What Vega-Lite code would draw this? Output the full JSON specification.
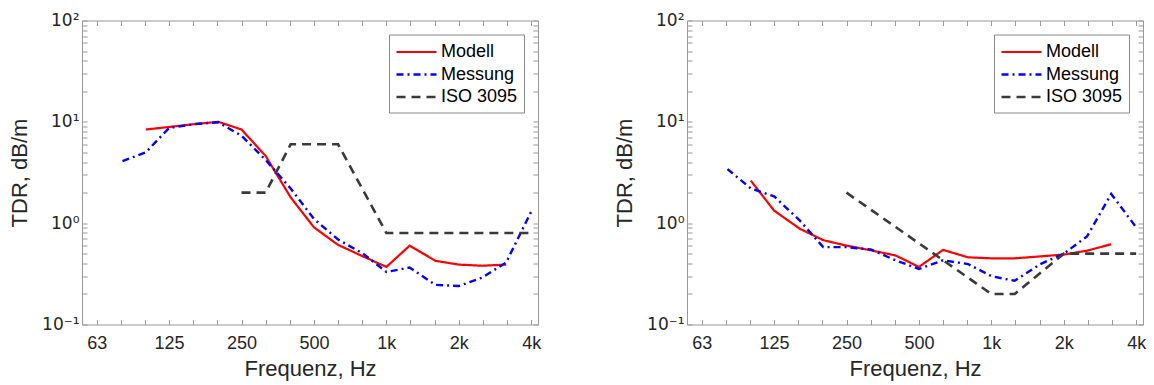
{
  "$schema": "https://vega.github.io/schema/vega-lite/v6.json",
  "background": "white",
  "padding": {"left": 8, "top": 10.5, "right": 5, "bottom": 3},
  "bounds": "flush",
  "spacing": 149,
  "datasets": {
    "left": [
      {"series": "Modell", "f": 100, "tdr": 8.4},
      {"series": "Modell", "f": 125, "tdr": 8.9},
      {"series": "Modell", "f": 160, "tdr": 9.5},
      {"series": "Modell", "f": 200, "tdr": 10.0},
      {"series": "Modell", "f": 250, "tdr": 8.4},
      {"series": "Modell", "f": 315, "tdr": 4.6},
      {"series": "Modell", "f": 400, "tdr": 1.8},
      {"series": "Modell", "f": 500, "tdr": 0.91},
      {"series": "Modell", "f": 630, "tdr": 0.61},
      {"series": "Modell", "f": 800, "tdr": 0.47},
      {"series": "Modell", "f": 1000, "tdr": 0.37},
      {"series": "Modell", "f": 1250, "tdr": 0.6},
      {"series": "Modell", "f": 1600, "tdr": 0.425},
      {"series": "Modell", "f": 2000, "tdr": 0.39},
      {"series": "Modell", "f": 2500, "tdr": 0.38},
      {"series": "Modell", "f": 3150, "tdr": 0.39},
      {"series": "Messung", "f": 80, "tdr": 4.1},
      {"series": "Messung", "f": 100, "tdr": 5.0},
      {"series": "Messung", "f": 125, "tdr": 8.7},
      {"series": "Messung", "f": 160, "tdr": 9.5},
      {"series": "Messung", "f": 200, "tdr": 9.9},
      {"series": "Messung", "f": 250, "tdr": 7.3},
      {"series": "Messung", "f": 315, "tdr": 4.2},
      {"series": "Messung", "f": 400, "tdr": 2.2},
      {"series": "Messung", "f": 500, "tdr": 1.1},
      {"series": "Messung", "f": 630, "tdr": 0.69},
      {"series": "Messung", "f": 800, "tdr": 0.5},
      {"series": "Messung", "f": 1000, "tdr": 0.33},
      {"series": "Messung", "f": 1250, "tdr": 0.365},
      {"series": "Messung", "f": 1600, "tdr": 0.246},
      {"series": "Messung", "f": 2000, "tdr": 0.24},
      {"series": "Messung", "f": 2500, "tdr": 0.29},
      {"series": "Messung", "f": 3150, "tdr": 0.41},
      {"series": "Messung", "f": 4000, "tdr": 1.3},
      {"series": "ISO 3095", "f": 250, "tdr": 2.0},
      {"series": "ISO 3095", "f": 315, "tdr": 2.0},
      {"series": "ISO 3095", "f": 400, "tdr": 6.0},
      {"series": "ISO 3095", "f": 500, "tdr": 6.0},
      {"series": "ISO 3095", "f": 630, "tdr": 6.0},
      {"series": "ISO 3095", "f": 1000, "tdr": 0.8},
      {"series": "ISO 3095", "f": 4000, "tdr": 0.8}
    ],
    "right": [
      {"series": "Modell", "f": 100, "tdr": 2.63},
      {"series": "Modell", "f": 125, "tdr": 1.33},
      {"series": "Modell", "f": 160, "tdr": 0.88},
      {"series": "Modell", "f": 200, "tdr": 0.68},
      {"series": "Modell", "f": 250, "tdr": 0.6},
      {"series": "Modell", "f": 315, "tdr": 0.54},
      {"series": "Modell", "f": 400, "tdr": 0.48},
      {"series": "Modell", "f": 500, "tdr": 0.37},
      {"series": "Modell", "f": 630, "tdr": 0.545},
      {"series": "Modell", "f": 800, "tdr": 0.46},
      {"series": "Modell", "f": 1000, "tdr": 0.45},
      {"series": "Modell", "f": 1250, "tdr": 0.45},
      {"series": "Modell", "f": 1600, "tdr": 0.47},
      {"series": "Modell", "f": 2000, "tdr": 0.49},
      {"series": "Modell", "f": 2500, "tdr": 0.535},
      {"series": "Modell", "f": 3150, "tdr": 0.62},
      {"series": "Messung", "f": 80, "tdr": 3.42},
      {"series": "Messung", "f": 100, "tdr": 2.2},
      {"series": "Messung", "f": 125, "tdr": 1.84},
      {"series": "Messung", "f": 160, "tdr": 1.06},
      {"series": "Messung", "f": 200, "tdr": 0.58},
      {"series": "Messung", "f": 250, "tdr": 0.58},
      {"series": "Messung", "f": 315, "tdr": 0.55},
      {"series": "Messung", "f": 400, "tdr": 0.43},
      {"series": "Messung", "f": 500, "tdr": 0.353},
      {"series": "Messung", "f": 630, "tdr": 0.43},
      {"series": "Messung", "f": 800, "tdr": 0.395},
      {"series": "Messung", "f": 1000, "tdr": 0.3},
      {"series": "Messung", "f": 1250, "tdr": 0.27},
      {"series": "Messung", "f": 1600, "tdr": 0.395},
      {"series": "Messung", "f": 2000, "tdr": 0.5},
      {"series": "Messung", "f": 2500, "tdr": 0.74},
      {"series": "Messung", "f": 3150, "tdr": 1.94},
      {"series": "Messung", "f": 4000, "tdr": 0.91},
      {"series": "ISO 3095", "f": 250, "tdr": 2.0},
      {"series": "ISO 3095", "f": 1000, "tdr": 0.2},
      {"series": "ISO 3095", "f": 1250, "tdr": 0.2},
      {"series": "ISO 3095", "f": 2000, "tdr": 0.5},
      {"series": "ISO 3095", "f": 4000, "tdr": 0.5}
    ]
  },
  "hconcat": [
    {
      "width": 456,
      "height": 304,
      "data": {"name": "left"},
      "layer": [
        {
          "mark": {"type": "line", "strokeCap": "butt"},
          "encoding": {
            "x": {"field": "f", "type": "quantitative", "title": "Frequenz, Hz",
              "scale": {"type": "log", "domain": [54.3, 4270], "nice": false},
              "axis": {"orient": "bottom", "labelPadding": 15, "titlePadding": 6, "values": [62.5, 78.75, 99.21, 125, 157.49, 198.43, 250, 314.98, 396.85, 500, 629.96, 793.7, 1000, 1259.92, 1587.4, 2000, 2519.84, 3174.8, 4000],
                "labelExpr": "datum.value == 62.5 ? '63' : datum.value == 125 ? '125' : datum.value == 250 ? '250' : datum.value == 500 ? '500' : datum.value == 1000 ? '1k' : datum.value == 2000 ? '2k' : datum.value == 4000 ? '4k' : ''"}},
            "y": {"field": "tdr", "type": "quantitative", "title": "TDR, dB/m",
              "scale": {"type": "log", "domain": [0.1, 100], "nice": false},
              "axis": {"orient": "left", "labelPadding": 8, "titlePadding": 10, "labelFont": "DejaVu Sans", "labelFontSize": 17, "values": [0.1, 0.2, 0.3, 0.4, 0.5, 0.6, 0.7, 0.8, 0.9, 1, 2, 3, 4, 5, 6, 7, 8, 9, 10, 20, 30, 40, 50, 60, 70, 80, 90, 100],
                "labelExpr": "datum.value == 100 ? '10²' : datum.value == 10 ? '10¹' : datum.value == 1 ? '10⁰' : datum.value == 0.1 ? '10⁻¹' : ''"}},
            "color": {"field": "series", "type": "nominal", "title": null,
              "scale": {"domain": ["Modell", "Messung", "ISO 3095"], "range": ["#ff0000", "#0000ff", "#3a3a3a"]}},
            "strokeDash": {"field": "series", "type": "nominal", "title": null,
              "scale": {"domain": ["Modell", "Messung", "ISO 3095"], "range": [[1, 0], [7, 4, 2, 4], [9, 6]]}},
            "strokeWidth": {"field": "series", "type": "nominal", "title": null,
              "scale": {"domain": ["Modell", "Messung", "ISO 3095"], "range": [2.2, 2.6, 1.2]}}
          }
        },
        {
          "mark": {"type": "point", "opacity": 0},
          "encoding": {
            "x": {"field": "f", "type": "quantitative", "axis": {"orient": "top", "title": null, "labels": false, "values": [62.5, 78.75, 99.21, 125, 157.49, 198.43, 250, 314.98, 396.85, 500, 629.96, 793.7, 1000, 1259.92, 1587.4, 2000, 2519.84, 3174.8, 4000]}},
            "y": {"field": "tdr", "type": "quantitative", "axis": {"orient": "right", "title": null, "labels": false, "values": [0.1, 0.2, 0.3, 0.4, 0.5, 0.6, 0.7, 0.8, 0.9, 1, 2, 3, 4, 5, 6, 7, 8, 9, 10, 20, 30, 40, 50, 60, 70, 80, 90, 100]}}
          }
        }
      ],
      "resolve": {"axis": {"x": "independent", "y": "independent"}}
    },
    {
      "width": 456,
      "height": 304,
      "data": {"name": "right"},
      "layer": [
        {
          "mark": {"type": "line", "strokeCap": "butt"},
          "encoding": {
            "x": {"field": "f", "type": "quantitative", "title": "Frequenz, Hz",
              "scale": {"type": "log", "domain": [54.3, 4270], "nice": false},
              "axis": {"orient": "bottom", "labelPadding": 15, "titlePadding": 6, "values": [62.5, 78.75, 99.21, 125, 157.49, 198.43, 250, 314.98, 396.85, 500, 629.96, 793.7, 1000, 1259.92, 1587.4, 2000, 2519.84, 3174.8, 4000],
                "labelExpr": "datum.value == 62.5 ? '63' : datum.value == 125 ? '125' : datum.value == 250 ? '250' : datum.value == 500 ? '500' : datum.value == 1000 ? '1k' : datum.value == 2000 ? '2k' : datum.value == 4000 ? '4k' : ''"}},
            "y": {"field": "tdr", "type": "quantitative", "title": "TDR, dB/m",
              "scale": {"type": "log", "domain": [0.1, 100], "nice": false},
              "axis": {"orient": "left", "labelPadding": 8, "titlePadding": 10, "labelFont": "DejaVu Sans", "labelFontSize": 17, "values": [0.1, 0.2, 0.3, 0.4, 0.5, 0.6, 0.7, 0.8, 0.9, 1, 2, 3, 4, 5, 6, 7, 8, 9, 10, 20, 30, 40, 50, 60, 70, 80, 90, 100],
                "labelExpr": "datum.value == 100 ? '10²' : datum.value == 10 ? '10¹' : datum.value == 1 ? '10⁰' : datum.value == 0.1 ? '10⁻¹' : ''"}},
            "color": {"field": "series", "type": "nominal", "title": null,
              "scale": {"domain": ["Modell", "Messung", "ISO 3095"], "range": ["#ff0000", "#0000ff", "#3a3a3a"]}},
            "strokeDash": {"field": "series", "type": "nominal", "title": null,
              "scale": {"domain": ["Modell", "Messung", "ISO 3095"], "range": [[1, 0], [7, 4, 2, 4], [9, 6]]}},
            "strokeWidth": {"field": "series", "type": "nominal", "title": null,
              "scale": {"domain": ["Modell", "Messung", "ISO 3095"], "range": [2.2, 2.6, 1.2]}}
          }
        },
        {
          "mark": {"type": "point", "opacity": 0},
          "encoding": {
            "x": {"field": "f", "type": "quantitative", "axis": {"orient": "top", "title": null, "labels": false, "values": [62.5, 78.75, 99.21, 125, 157.49, 198.43, 250, 314.98, 396.85, 500, 629.96, 793.7, 1000, 1259.92, 1587.4, 2000, 2519.84, 3174.8, 4000]}},
            "y": {"field": "tdr", "type": "quantitative", "axis": {"orient": "right", "title": null, "labels": false, "values": [0.1, 0.2, 0.3, 0.4, 0.5, 0.6, 0.7, 0.8, 0.9, 1, 2, 3, 4, 5, 6, 7, 8, 9, 10, 20, 30, 40, 50, 60, 70, 80, 90, 100]}}
          }
        }
      ],
      "resolve": {"axis": {"x": "independent", "y": "independent"}}
    }
  ],
  "resolve": {"scale": {"color": "independent", "strokeDash": "independent", "strokeWidth": "independent"}, "legend": {"color": "independent", "strokeDash": "independent", "strokeWidth": "independent"}},
  "config": {
    "font": "Liberation Sans",
    "view": {"stroke": "#999999", "strokeWidth": 1},
    "axis": {
      "grid": false,
      "domain": false,
      "tickColor": "#999999",
      "tickSize": -5,
      "labelFont": "Liberation Sans",
      "labelFontSize": 18,
      "labelColor": "#262626",
      "titleFont": "Liberation Sans",
      "titleFontSize": 22,
      "titleFontWeight": "normal",
      "titleColor": "#262626"
    },
    "legend": {
      "orient": "top-right",
      "offset": 14,
      "strokeColor": "#888888",
      "fillColor": "white",
      "padding": 6,
      "symbolType": "M-2,0H2",
      "symbolSize": 400,
      "symbolOffset": 10,
      "labelFont": "Liberation Sans",
      "labelFontSize": 18,
      "labelColor": "#000000",
      "labelOffset": 13,
      "rowPadding": 1.5
    }
  }
}
